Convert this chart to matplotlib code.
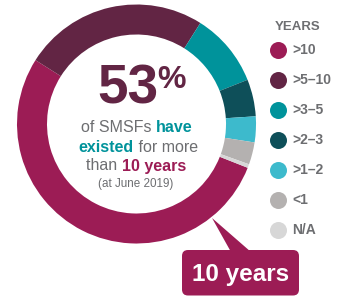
import matplotlib.pyplot as plt
from matplotlib.patches import FancyBboxPatch, Polygon

# data
labels = ['>10', '>5\u201310', '>3\u20135', '>2\u20133', '>1\u20132', '<1', 'N/A']
shares = [53, 25, 10, 5, 3.5, 3, 0.5]
colors = ['#9c1c55', '#622544', '#00939b', '#0e4f59', '#3dbacc', '#b4b1b0', '#d7d7d7']

H = 297
grey = '#6d6e71'
plum = '#622544'
magenta = '#9c1c55'
teal = '#00939b'
FONT = 'Liberation Sans'

fig = plt.figure(figsize=(3.49, 2.97), dpi=100)
ax = fig.add_axes([0, 0, 1, 1])

cx, cy, r = 136.5, H - 124, 119.5
ax.pie(shares, colors=colors, center=(cx, cy), radius=r, startangle=-21.5,
       counterclock=False, wedgeprops=dict(width=30, linewidth=0))
ax.set_xlim(0, 349)
ax.set_ylim(0, H)
ax.set_aspect('equal')
ax.axis('off')

fig.canvas.draw()
rend = fig.canvas.get_renderer()


def line(parts, x, y, size):
    # parts: (text, color, weight); centred on x
    texts = []
    for s, c, w in parts:
        t = ax.text(0, H - y, s, color=c, fontsize=size, fontweight=w,
                    family=FONT, ha='left', va='baseline')
        texts.append(t)
    widths = [t.get_window_extent(rend).width for t in texts]
    x0 = x - sum(widths) / 2
    for t, wd in zip(texts, widths):
        t.set_x(x0)
        x0 += wd


# centre text
line([('53', plum, 'bold')], 128, 103, 39.5)
ax.text(157, H - 88, '%', color=plum, fontsize=23, fontweight='bold',
        family=FONT, ha='left', va='baseline')
line([('of SMSFs ', grey, 'normal'), ('have', teal, 'bold')], 137, 132, 11.5)
line([('existed', teal, 'bold'), (' for more', grey, 'normal')], 138, 152, 11.5)
line([('than ', grey, 'normal'), ('10 years', magenta, 'bold')], 136, 170.5, 11.5)
line([('(at June 2019)', grey, 'normal')], 136, 187, 8.4)

# legend
ax.text(275, H - 30, 'YEARS', color=grey, fontsize=9.5, fontweight='bold',
        family=FONT, va='baseline')
for i, (lab, col) in enumerate(zip(labels, colors)):
    y = 50 + 30 * i
    ax.scatter([278], [H - y], s=150, color=col, linewidths=0)
    ax.text(292, H - y, lab, color=grey, fontsize=10, fontweight='bold',
            family=FONT, va='center')

# callout
ax.add_patch(Polygon([(212, H - 218), (231, H - 252), (251, H - 252)],
                     closed=True, color=magenta, lw=0))
ax.add_patch(FancyBboxPatch((182, H - 295.5), 117, 45.5,
                            boxstyle='round,pad=0,rounding_size=6',
                            color=magenta, lw=0))
ax.text(241, H - 274, '10 years', color='white', fontsize=17.5, fontweight='bold',
        family=FONT, ha='center', va='center')

fig.savefig('out.png', dpi=100)
